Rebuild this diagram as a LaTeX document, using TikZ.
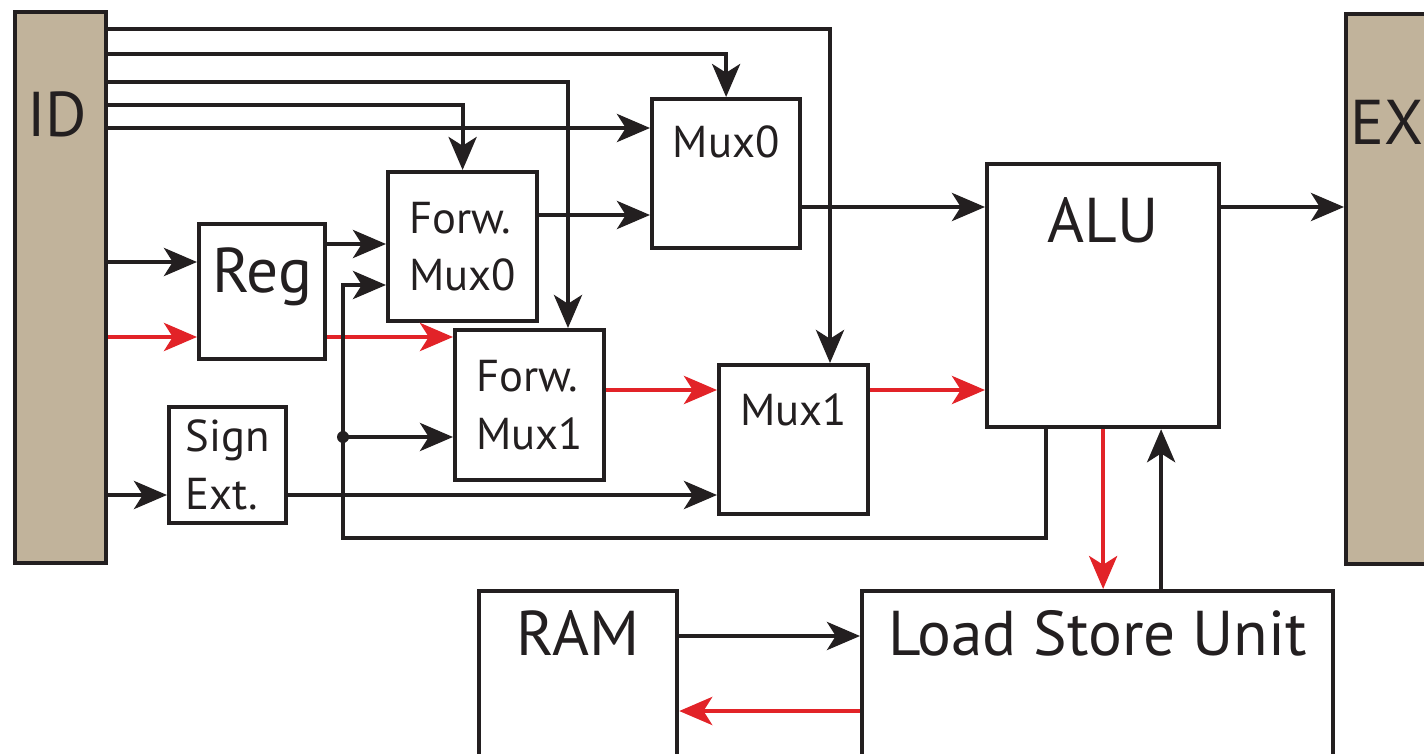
\documentclass[tikz,border=0pt]{standalone}
\usepackage{fontspec}
\setmainfont{PT Sans}
\usepackage{xcolor}
\usetikzlibrary{positioning, arrows.meta}

\definecolor{stagetan}{RGB}{193,179,155}
\definecolor{wireblack}{RGB}{35,31,32}
\definecolor{wirered}{RGB}{226,35,40}

\tikzset{
  block/.style={draw=wireblack, line width=1.2pt, fill=white, inner sep=0pt, anchor=north west},
  stage/.style={draw=wireblack, line width=1.2pt, fill=stagetan, inner sep=0pt, anchor=north west},
  bigtxt/.style={font=\fontsize{18}{20}\selectfont, text=wireblack, anchor=base, inner sep=0pt},
  smalltxt/.style={font=\fontsize{12.7}{16.4}\selectfont, text=wireblack, align=left},
  wire/.style={draw=wireblack, line width=1.1pt, -{Stealth[length=9.4pt, width=8pt, inset=2.5pt]}},
  redwire/.style={wire, draw=wirered}
}

\begin{document}
\begin{tikzpicture}
  \clip (0,0) rectangle (14.24,-7.54);

  \node (id) [stage, minimum width=0.91cm, minimum height=5.51cm] at (0.13,-0.10) {};
  \node (ex) [stage, minimum width=1.2cm, minimum height=5.50cm] at (13.44,-0.12) {};
  \node (reg) [block, minimum width=1.26cm, minimum height=1.35cm] at (1.97,-2.22) {};
  \node (fmux0) [block, smalltxt, minimum width=1.49cm, minimum height=1.49cm] at (3.86,-1.70) {Forw.\\Mux0};
  \node (fmux1) [block, smalltxt, minimum width=1.49cm, minimum height=1.50cm] at (4.53,-3.28) {Forw.\\Mux1};
  \node (sext) [block, smalltxt, minimum width=1.17cm, minimum height=1.16cm] at (1.67,-4.05) {Sign\\Ext.};
  \node (mux0) [block, minimum width=1.48cm, minimum height=1.49cm] at (6.50,-0.97) {};
  \node (mux1) [block, minimum width=1.49cm, minimum height=1.49cm] at (7.17,-3.63) {};
  \node (alu) [block, minimum width=2.32cm, minimum height=2.63cm] at (9.85,-1.62) {};
  \node (ram) [block, minimum width=1.98cm, minimum height=2.0cm] at (4.77,-5.89) {};
  \node (lsu) [block, minimum width=4.71cm, minimum height=2.0cm] at (8.60,-5.89) {};

  \node (idtxt) [bigtxt] at (0.57,-1.37) {ID};
  \node (extxt) [bigtxt, anchor=base west] at (13.50,-1.45) {EX};
  \node (regtxt) [bigtxt] at (reg.north |- 0,-2.92) {Reg};
  \node (mux0txt) [smalltxt, anchor=base] at (mux0.north |- 0,-1.58) {Mux0};
  \node (mux1txt) [smalltxt, anchor=base] at (mux1.north |- 0,-4.25) {Mux1};
  \node (alutxt) [bigtxt] at (alu.north |- 0,-2.43) {ALU};
  \node (ramtxt) [bigtxt] at (ram.north |- 0,-6.55) {RAM};
  \node (lsutxt) [bigtxt] at (lsu.north |- 0,-6.55) {Load Store Unit};

  \draw[wire] (id.east |- 0,-0.29) -| ([xshift=1.13cm]mux1.north west);
  \draw[wire] (id.east |- 0,-0.54) -| (mux0.north);
  \draw[wire] (id.east |- 0,-0.82) -| ([xshift=1.15cm]fmux1.north west);
  \draw[wire] (id.east |- 0,-1.05) -| (fmux0.north);
  \draw[wire] (id.east |- 0,-1.28) -- (mux0.west |- 0,-1.28);
  \draw[wire] (id.east |- 0,-2.62) -- (reg.west |- 0,-2.62);
  \draw[redwire] (id.east |- 0,-3.37) -- (reg.west |- 0,-3.37);
  \draw[wire] (id.east |- 0,-4.95) -- (sext.west |- 0,-4.95);

  \draw[wire] (reg.east |- 0,-2.44) -- (fmux0.west |- 0,-2.44);
  \draw[redwire] (reg.east |- 0,-3.37) -- (fmux1.west |- 0,-3.37);
  \draw[wire] (fmux0.east |- 0,-2.15) -- (mux0.west |- 0,-2.15);

  \coordinate (fbdot) at (3.43,-4.37);
  \draw[wire] ([xshift=0.61cm]alu.south west) |- (3.43,-5.38) |- (fmux0.west |- 0,-2.85);
  \fill[wireblack] (fbdot) circle (0.06);
  \draw[wire] (fbdot) -- (fmux1.west |- fbdot);

  \draw[redwire] (fmux1.east |- 0,-3.90) -- (mux1.west |- 0,-3.90);
  \draw[wire] (sext.east |- 0,-4.95) -- (mux1.west |- 0,-4.95);
  \draw[wire] (mux0.east |- 0,-2.07) -- (alu.west |- 0,-2.07);
  \draw[redwire] (mux1.east |- 0,-3.90) -- (alu.west |- 0,-3.90);
  \draw[wire] (alu.east |- 0,-2.07) -- (ex.west |- 0,-2.07);

  \draw[redwire] (alu.south) -- (alu.south |- lsu.north);
  \draw[wire] ([xshift=0.58cm]alu.south |- lsu.north) -- ([xshift=0.58cm]alu.south);
  \draw[wire] (ram.east |- 0,-6.36) -- (lsu.west |- 0,-6.36);
  \draw[redwire] (lsu.west |- 0,-7.11) -- (ram.east |- 0,-7.11);
\end{tikzpicture}
\end{document}
